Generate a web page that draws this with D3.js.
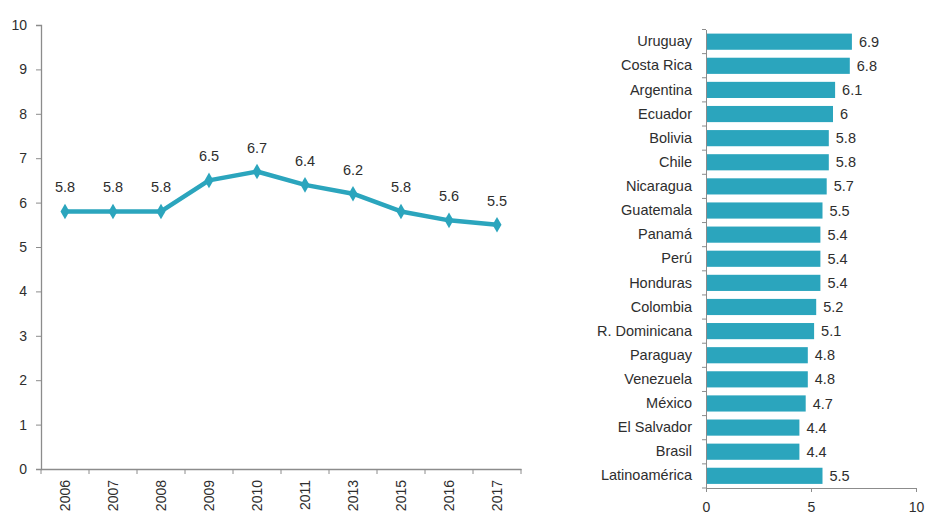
<!DOCTYPE html>
<html><head><meta charset="utf-8">
<script src="https://cdn.jsdelivr.net/npm/d3@7"></script>
<style>body{margin:0;background:#fff}svg{display:block}text{font-family:"Liberation Sans",Arial,sans-serif;fill:#2e2e2e}</style>
</head><body><svg id="c" width="927" height="523"></svg>
<script>
const years = ["2006","2007","2008","2009","2010","2011","2013","2015","2016","2017"];
const trendValues = [5.8,5.8,5.8,6.5,6.7,6.4,6.2,5.8,5.6,5.5];
const yTicks = [0,1,2,3,4,5,6,7,8,9,10];
const countries = ["Uruguay","Costa Rica","Argentina","Ecuador","Bolivia","Chile","Nicaragua","Guatemala","Panamá","Perú","Honduras","Colombia","R. Dominicana","Paraguay","Venezuela","México","El Salvador","Brasil","Latinoamérica"];
const countryValues = [6.9,6.8,6.1,6,5.8,5.8,5.7,5.5,5.4,5.4,5.4,5.2,5.1,4.8,4.8,4.7,4.4,4.4,5.5];
const xTicks = [0,5,10];

const color = "#2ba5bd";
const axisColor = "#8c8c8c";
const svg = d3.select("#c");

// Left line chart
const L = {left:41, right:521, top:25, bottom:469};
const x = d3.scaleBand().domain(years).range([L.left, L.right]);
const y = d3.scaleLinear().domain([0,10]).range([L.bottom, L.top]);

const gy = svg.append("g").attr("transform",`translate(${L.left},0)`)
  .call(d3.axisLeft(y).tickValues(yTicks).tickSize(5).tickPadding(9));
gy.selectAll("text").style("font-size","14px");
const gx = svg.append("g").attr("transform",`translate(0,${L.bottom})`)
  .call(d3.axisBottom(x).tickSize(0).tickFormat(""));
gx.selectAll(".b").data(years.concat([null])).enter().append("line")
  .attr("x1",(d,i)=>L.left+i*x.step()).attr("x2",(d,i)=>L.left+i*x.step())
  .attr("y1",0).attr("y2",5).attr("stroke",axisColor);
gx.selectAll(".yl").data(years).enter().append("text")
  .attr("transform",d=>`translate(${x(d)+x.bandwidth()/2+5},11) rotate(-90)`)
  .attr("text-anchor","end").style("font-size","14px").text(d=>d);
[gx,gy].forEach(g=>{g.selectAll("path,line").attr("stroke",axisColor);});
gx.select(".domain").attr("stroke-width",1.3);
gy.select(".domain").attr("stroke-width",1.3);

const pts = years.map((d,i)=>[x(d)+x.bandwidth()/2, y(trendValues[i]), trendValues[i]]);
svg.append("path").datum(pts)
  .attr("d",d3.line().x(d=>d[0]).y(d=>d[1]))
  .attr("fill","none").attr("stroke",color).attr("stroke-width",4.5).attr("stroke-linejoin","round");
svg.selectAll(".m").data(pts).enter().append("path")
  .attr("d",d3.symbol().type(d3.symbolDiamond).size(70))
  .attr("transform",d=>`translate(${d[0]},${d[1]})`).attr("fill",color);
svg.selectAll(".lab").data(pts).enter().append("text")
  .attr("x",d=>d[0]).attr("y",d=>d[1]-19).attr("text-anchor","middle")
  .style("font-size","14.5px").text(d=>d[2]);

// Right bar chart
const R = {left:706, right:916, top:29.5, bottom:488};
const bx = d3.scaleLinear().domain([0,10]).range([R.left, R.right]);
const by = d3.scaleBand().domain(countries).range([R.top, R.bottom]).paddingInner(0.33).paddingOuter(0.17);

const gby = svg.append("g").attr("transform",`translate(${R.left},0)`)
  .call(d3.axisLeft(by).tickSize(0).tickPadding(14));
gby.selectAll("text").style("font-size","14.5px");
const step = (R.bottom-R.top)/countries.length;
gby.selectAll(".t").data(d3.range(countries.length+1)).enter().append("line")
  .attr("x1",-4).attr("x2",0).attr("y1",i=>R.top+i*step).attr("y2",i=>R.top+i*step);
const gbx = svg.append("g").attr("transform",`translate(0,${R.bottom})`)
  .call(d3.axisBottom(bx).tickValues(xTicks).tickSize(4).tickPadding(10));
gbx.selectAll("text").style("font-size","14px");
[gby,gbx].forEach(g=>{g.selectAll("path,line").attr("stroke",axisColor);});

svg.selectAll(".bar").data(countries).enter().append("rect")
  .attr("x",bx(0)+1).attr("y",d=>by(d))
  .attr("width",(d,i)=>bx(countryValues[i])-bx(0)).attr("height",by.bandwidth())
  .attr("fill",color);
svg.selectAll(".bl").data(countries).enter().append("text")
  .attr("x",(d,i)=>bx(countryValues[i])+8).attr("y",d=>by(d)+by.bandwidth()/2)
  .attr("dy","0.35em").style("font-size","14.5px").text((d,i)=>countryValues[i]);
</script></body></html>
